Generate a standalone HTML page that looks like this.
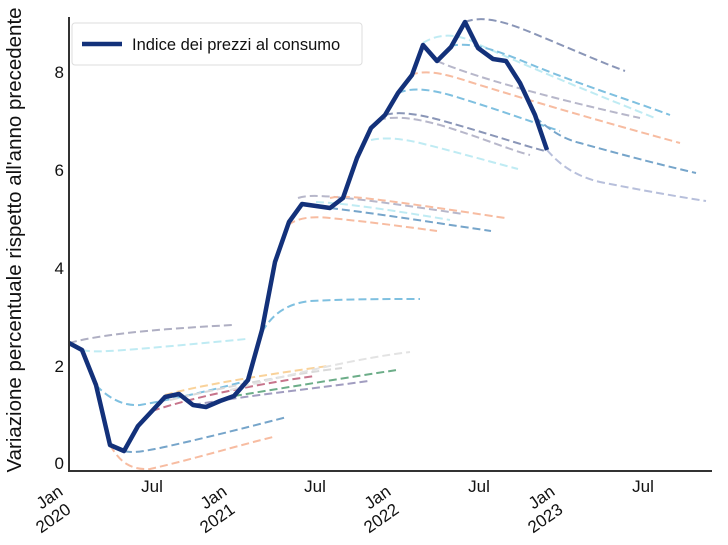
<!DOCTYPE html>
<html><head><meta charset="utf-8"><style>
html,body{margin:0;padding:0;background:#fff;}
svg{display:block;font-family:"Liberation Sans",sans-serif;}
</style></head><body>
<svg width="728" height="545" viewBox="0 0 728 545">
<rect width="728" height="545" fill="#fff"/>
<g fill="none" stroke-width="2" stroke-dasharray="8,4" opacity="0.7">
<path d="M69,343 C110,332 180,328 232,325" stroke="#8e8eab"/>
<path d="M82,350 C95,353 110,352 246,339" stroke="#a5e3ef"/>
<path d="M96,385 C110,400 125,406 140,405 C180,398 220,388 250,380" stroke="#4aa6d3"/>
<path d="M110,445 C120,462 130,470 150,469 C190,460 240,445 273,437" stroke="#f4a07a"/>
<path d="M124,451 C132,453 140,452 160,448 C210,437 260,424 287,417" stroke="#3d7fb5"/>
<path d="M165,395 C200,385 270,374 328,366" stroke="#f7c070"/>
<path d="M170,400 C220,388 290,374 342,368" stroke="#c9c9c9"/>
<path d="M152,411 C200,395 270,382 315,376" stroke="#b03a5b"/>
<path d="M234,396 C290,387 350,377 397,370" stroke="#2e8b57"/>
<path d="M193,405 C250,395 320,388 368,381" stroke="#7a74a6"/>
<path d="M230,390 C300,372 360,358 410,352" stroke="#d8d8d8"/>
<path d="M262,332 C272,315 285,304 310,301 C350,299 390,299 420,299" stroke="#4aa6d3"/>
<path d="M298,198 C310,194 330,194 463,214" stroke="#9a9ab5"/>
<path d="M330,198 C345,195 360,196 505,218" stroke="#f4a07a"/>
<path d="M316,202 C340,203 380,208 450,220" stroke="#a5e3ef"/>
<path d="M330,208 C380,214 430,222 491,231" stroke="#3d7fb5"/>
<path d="M288,225 C298,218 310,216 330,218 C370,222 400,226 437,231" stroke="#f4a07a"/>
<path d="M465,22 C480,16 500,20 525,30 C560,44 600,62 625,71" stroke="#5a6a9a"/>
<path d="M423,43 C440,32 460,34 480,45 C540,72 610,100 655,118" stroke="#a5e3ef"/>
<path d="M450,46 C470,42 490,48 520,60 C580,85 630,100 670,115" stroke="#4aa6d3"/>
<path d="M437,61 C480,80 580,105 640,118" stroke="#9a9ab5"/>
<path d="M410,75 C425,70 440,72 470,82 C560,110 640,132 680,143" stroke="#f4a07a"/>
<path d="M398,93 C410,88 425,88 450,95 C500,110 540,125 560,131" stroke="#4aa6d3"/>
<path d="M385,115 C395,112 410,112 440,120 C490,134 525,146 545,151" stroke="#5a6a9a"/>
<path d="M378,120 C395,116 410,117 440,125 C480,137 510,150 530,155" stroke="#9a9ab5"/>
<path d="M371,140 C380,138 395,137 420,143 C460,153 495,163 518,169" stroke="#a5e3ef"/>
<path d="M535,117 C548,128 560,138 580,143 C630,157 670,167 696,173" stroke="#3d7fb5"/>
<path d="M547,150 C560,165 575,176 600,182 C640,190 680,197 706,201" stroke="#9aa5cc"/>
</g>
<polyline fill="none" stroke="#13317a" stroke-width="4.5" stroke-linejoin="round" points="69,343 82,350 96,385 110,445 124,451 138,426 152,411 165,397 179,394 193,405 206,407 220,401 234,396 248,380 262,330 275,262 289,222 302,204 316,206 330,208 343,198 357,158 371,128 385,115 398,93 412,75 423,45 437,61 451,47 465,22 478,48 493,59 506,61 520,83 535,115 547,150"/>
<path d="M69,17 V471 H712" fill="none" stroke="#333" stroke-width="2"/>
<g font-size="17" fill="#111" text-anchor="end">
<text x="64" y="469">0</text><text x="64" y="372">2</text><text x="64" y="274">4</text><text x="64" y="176">6</text><text x="64" y="78">8</text>
</g>
<g font-size="17" fill="#111" text-anchor="middle">
<text x="152" y="492">Jul</text><text x="315" y="492">Jul</text><text x="479" y="492">Jul</text><text x="643" y="492">Jul</text>
</g>
<g font-size="17" fill="#111" text-anchor="end">
<text transform="translate(64,494) rotate(-35)">Jan</text><text transform="translate(72,512) rotate(-35)">2020</text>
<text transform="translate(228,494) rotate(-35)">Jan</text><text transform="translate(236,512) rotate(-35)">2021</text>
<text transform="translate(392,494) rotate(-35)">Jan</text><text transform="translate(400,512) rotate(-35)">2022</text>
<text transform="translate(556,494) rotate(-35)">Jan</text><text transform="translate(564,512) rotate(-35)">2023</text>
</g>
<text transform="translate(21,240) rotate(-90)" font-size="20.5" fill="#111" text-anchor="middle">Variazione percentuale rispetto all'anno precedente</text>
<rect x="72" y="23" width="290" height="42" rx="3" fill="#fff" fill-opacity="0.85" stroke="#ddd"/>
<line x1="82" y1="44" x2="122" y2="44" stroke="#13317a" stroke-width="4.5"/>
<text x="132" y="50" font-size="16.5" fill="#111">Indice dei prezzi al consumo</text>
</svg>
</body></html>
